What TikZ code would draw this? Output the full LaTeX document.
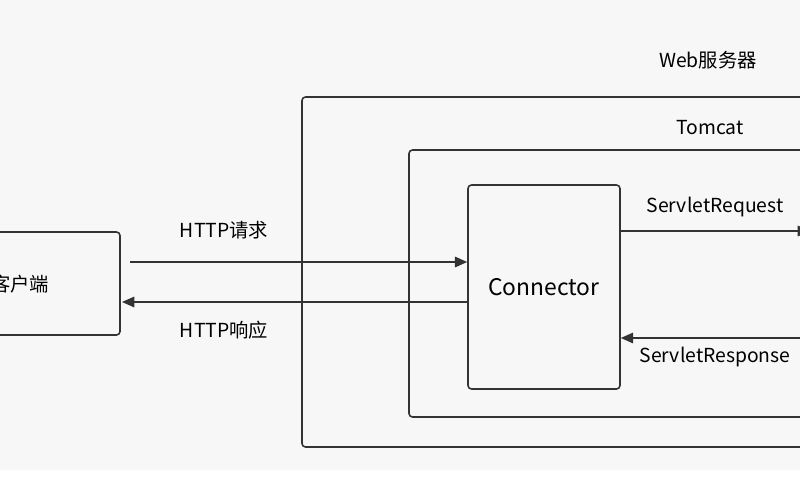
\documentclass[tikz,border=0pt]{standalone}
\usepackage{fontspec}
\setmainfont{Noto Sans CJK SC}
\usetikzlibrary{arrows.meta}

\begin{document}
\begin{tikzpicture}[x=0.02cm,y=-0.02cm,font=\fontsize{11}{13}\selectfont]
\tikzstyle{box}=[draw=black!80,line width=0.9pt,rounded corners=2pt]
\tikzstyle{flow}=[draw=black!80,line width=0.8pt,-{Triangle[length=7pt,width=6pt]}]
\tikzstyle{lbl}=[inner sep=1pt]
\useasboundingbox (0,0) rectangle (800,500);
\fill[black!3] (0,0) rectangle (800,470);
\fill[white] (0,470) rectangle (800,500);

% boxes
\draw[box] (-40,232) rectangle (120,335);
\node[lbl] (client) at (20,284) {客户端};
\draw[box] (302,97) rectangle (840,447);
\node[lbl] (web) at (708,60) {Web服务器};
\draw[box] (409,150) rectangle (840,417);
\node[lbl] (tomcat) at (710,128) {Tomcat};
\node[box,minimum width=152*0.02cm,minimum height=204*0.02cm,font=\fontsize{13}{15}\selectfont] (conn) at (544,287) {Connector};

% connectors
\coordinate (reqA) at (130,262);
\coordinate (resB) at (122,302);
\coordinate (sreqB) at (810,231);
\coordinate (sresA) at (810,338);
\draw[flow] (reqA) -- (reqA -| conn.west);
\draw[flow] (resB -| conn.west) -- (resB);
\draw[flow] (sreqB -| conn.east) -- (sreqB);
\draw[flow] (sresA) -- (sresA -| conn.east);

\node[lbl] (req) at (224,230) {HTTP请求};
\node[lbl] (res) at (224,330) {HTTP响应};
\node[lbl] (sreq) at (715,207) {ServletRequest};
\node[lbl] (sres) at (715,357) {ServletResponse};
\end{tikzpicture}
\end{document}
